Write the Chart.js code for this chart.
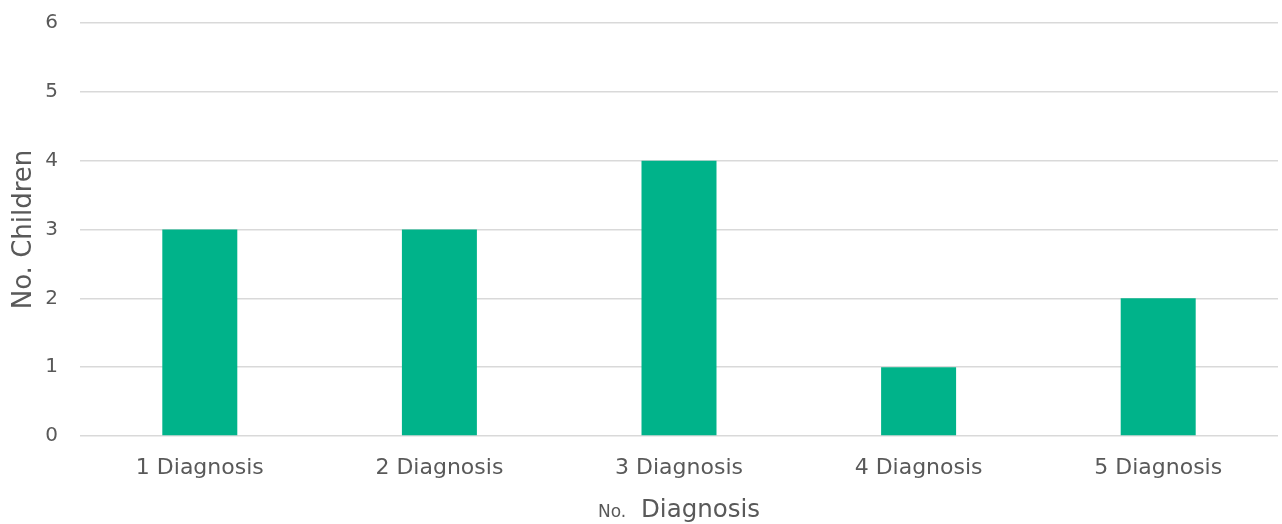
<!DOCTYPE html>
<html>
<head>
<meta charset="utf-8">
<script src="https://cdn.jsdelivr.net/npm/chart.js@4.4.1/dist/chart.umd.min.js"></script>
<style>
  html, body { margin: 0; padding: 0; background: #ffffff; }
  #wrap { width: 1282px; height: 524px; position: relative; }
</style>
</head>
<body>
<div id="wrap"><canvas id="chart" width="1282" height="524"></canvas></div>
<script>
// Number of children by number of diagnoses
const categories = ['1 Diagnosis', '2 Diagnosis', '3 Diagnosis', '4 Diagnosis', '5 Diagnosis'];
const childCounts = [3, 3, 4, 1, 2];
const yTicks = [0, 1, 2, 3, 4, 5, 6];

const FONT = '"DejaVu Sans", sans-serif';
const TEXT = '#595959';

// X axis title with a small "No." prefix followed by a larger word
const xTitlePlugin = {
  id: 'xTitle',
  afterDraw(chart) {
    const { ctx, chartArea } = chart;
    const cx = (chartArea.left + chartArea.right) / 2;
    const y = 517;
    ctx.save();
    ctx.fillStyle = TEXT;
    ctx.textBaseline = 'alphabetic';
    ctx.textAlign = 'left';
    ctx.font = '17px ' + FONT;
    ctx.fillText('No.', cx - 81, y);
    ctx.font = '24.5px ' + FONT;
    ctx.fillText('Diagnosis', cx - 38, y);
    ctx.restore();
  }
};

new Chart(document.getElementById('chart'), {
  type: 'bar',
  data: {
    labels: categories,
    datasets: [{
      data: childCounts,
      backgroundColor: '#00B38A',
      borderWidth: 0,
      categoryPercentage: 1,
      barPercentage: 0.313
    }]
  },
  options: {
    responsive: false,
    animation: false,
    devicePixelRatio: 1,
    layout: { padding: { top: 23, right: 4, bottom: 0, left: 0 } },
    plugins: { legend: { display: false }, tooltip: { enabled: false } },
    scales: {
      x: {
        grid: { display: false, drawTicks: false },
        border: { display: false },
        ticks: { color: TEXT, font: { family: FONT, size: 22 }, padding: 19 },
        afterFit(scale) {
          scale.height = 88;
          scale.paddingLeft = 0;
          scale.paddingRight = 0;
        }
      },
      y: {
        min: 0,
        max: 6,
        afterBuildTicks(scale) { scale.ticks = yTicks.map(v => ({ value: v })); },
        grid: { color: '#d9d9d9', lineWidth: 1.5, drawTicks: false },
        border: { display: false },
        ticks: { color: TEXT, font: { family: FONT, size: 20 }, padding: 22 },
        title: {
          display: true,
          text: 'No. Children',
          color: TEXT,
          font: { family: FONT, size: 26 },
          padding: { top: 9, bottom: 0 }
        },
        afterFit(scale) {
          scale.width = 80;
          scale.paddingTop = 0;
          scale.paddingBottom = 0;
        }
      }
    }
  },
  plugins: [xTitlePlugin]
});
</script>
</body>
</html>
